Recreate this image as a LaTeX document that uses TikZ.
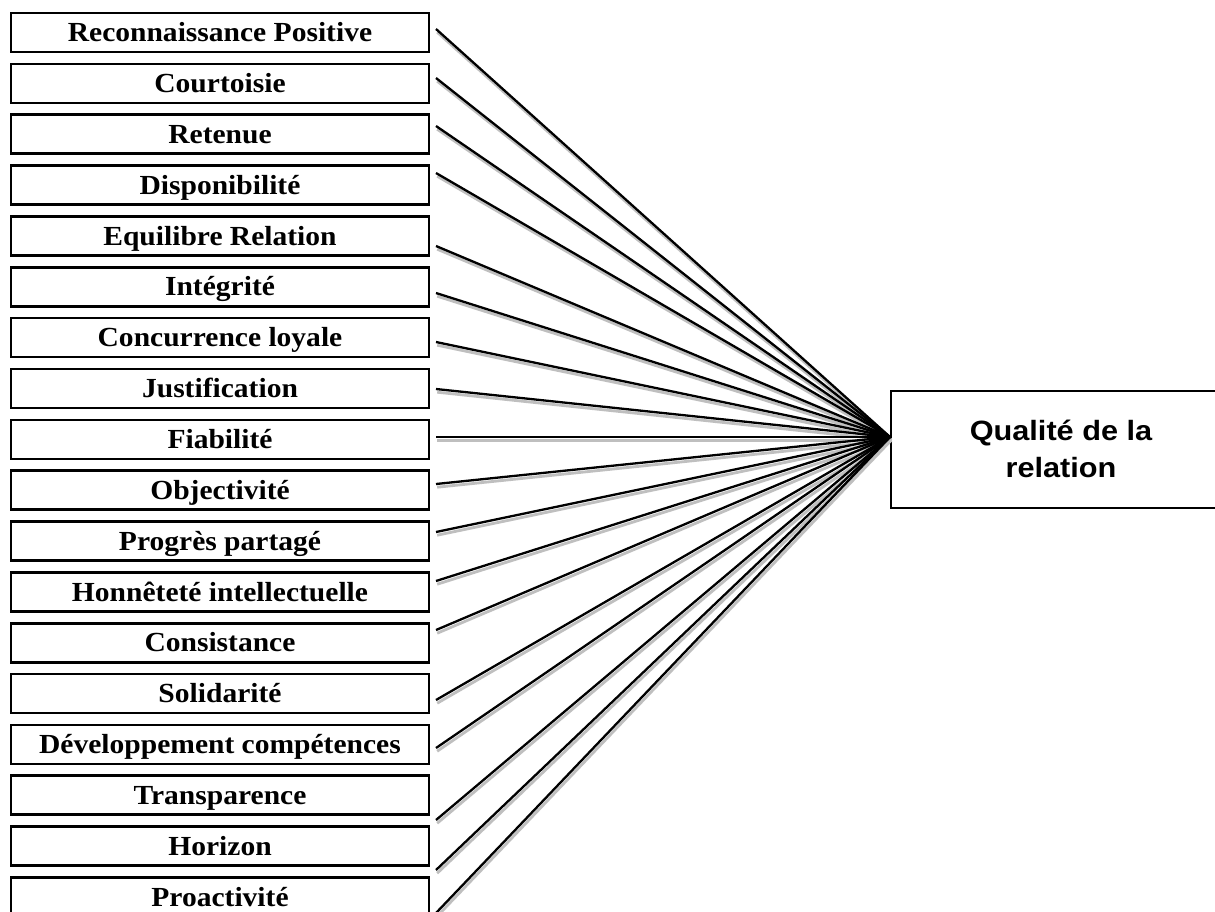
\documentclass[tikz,border=0pt]{standalone}
\usepackage{fontspec}
\newfontfamily\boxfont{Liberation Serif}[FakeStretch=1.07]
\newfontfamily\qfont{Liberation Sans}[FakeStretch=1.1]
\begin{document}
\begin{tikzpicture}[x=1pt,y=-1pt,
  item/.style={draw=black, line width=2.6pt, rectangle, inner sep=0pt,
    minimum width=418pt, minimum height=39pt, text height=28.7pt, text depth=10.3pt,
    font=\boxfont\bfseries\fontsize{27.6}{30}\selectfont},
  link/.style={draw=black, line width=2.3pt},
  linkshadow/.style={draw=black!25, line width=2.8pt}]
\clip (0,0) rectangle (1215,911);
\fill[white] (0,0) rectangle (1215,911);

\foreach \i/\t in {1/Reconnaissance Positive,2/Courtoisie,3/Retenue,4/Disponibilité,
  5/Equilibre Relation,6/Intégrité,7/Concurrence loyale,8/Justification,
  9/Fiabilité,10/Objectivité,11/Progrès partagé,12/Honnêteté intellectuelle,
  13/Consistance,14/Solidarité,15/Développement compétences,16/Transparence,
  17/Horizon,18/Proactivité}
  \node[item] (b\i) at (220, {13+(\i-1)*50.85+19.5}) {\t};

\node[draw=black, line width=2pt, rectangle, inner sep=0pt,
  minimum width=344pt, minimum height=117pt] (q) at (1063,449.5) {};
\node[font=\qfont\bfseries\fontsize{27.9}{37}\selectfont, align=center,
  anchor=base] (qt) at (1061,477) {Qualité de la\\relation};

\coordinate (hub) at (890,437);
\foreach \i/\y in {1/29,2/78,3/126,4/173,5/246,6/293,7/342,8/389,9/437,
  10/484,11/532,12/581,13/630,14/700,15/748,16/820,17/870,18/913}
  \coordinate (s\i) at (436,\y);
\foreach \i in {1,...,18}
  \draw[linkshadow] ([shift={(1.2,3.2)}]s\i) -- ([shift={(1.2,3.2)}]hub);
\foreach \i in {1,...,18}
  \draw[link] (s\i) -- (hub);
\end{tikzpicture}
\end{document}
